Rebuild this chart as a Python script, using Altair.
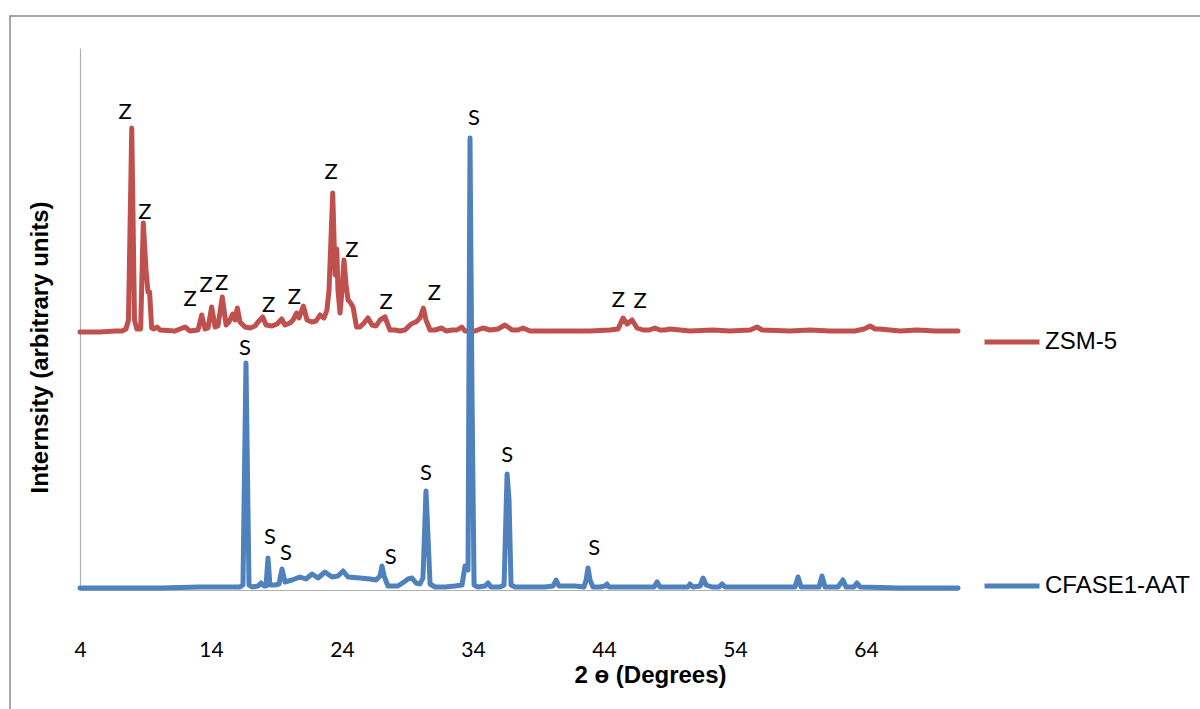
import altair as alt
import pandas as pd

# ZSM-5 trace (offset upward), 2θ in degrees / intensity in arbitrary units
zsm_two_theta = [
    4.00, 5.53, 6.67, 7.21, 7.51, 7.70, 7.95, 8.16, 8.33, 8.63, 8.83, 9.04, 9.19, 9.31,
    9.47, 9.65, 9.88, 10.11, 11.25, 12.02, 12.40, 13.01, 13.29, 13.54, 13.77, 14.05,
    14.31, 14.53, 14.86, 15.15, 15.37, 15.66, 15.83, 16.01, 16.21, 16.60, 16.98, 17.36,
    17.59, 17.95, 18.20, 18.66, 19.04, 19.40, 19.65, 20.03, 20.26, 20.54, 20.72, 21.05,
    21.33, 21.71, 22.02, 22.32, 22.63, 22.85, 23.01, 23.29, 23.47, 23.60, 23.69, 23.85,
    24.00, 24.15, 24.31, 24.46, 24.61, 24.84, 25.11, 25.37, 25.68, 25.98, 26.29, 26.60,
    26.90, 27.28, 27.51, 27.66, 28.05, 28.43, 28.81, 29.19, 29.42, 29.65, 29.95, 30.21,
    30.41, 30.72, 31.10, 31.61, 31.94, 32.40, 32.78, 33.14, 33.39, 34.15, 34.76, 35.30,
    35.91, 36.44, 36.98, 37.44, 37.82, 38.35, 39.88, 41.40, 42.93, 44.46, 45.07, 45.45,
    45.76, 46.14, 46.52, 46.98, 47.44, 47.89, 48.27, 48.66, 49.04, 50.56, 52.32, 53.62,
    55.15, 55.68, 56.06, 58.20, 59.73, 61.25, 63.16, 63.85, 64.31, 64.69, 65.07, 66.60,
    67.89, 69.27, 71.02,
]
zsm_intensity = [
    258, 258, 259, 259, 261, 270, 462, 270, 261, 261, 367, 320, 298, 298,
    262, 261, 263, 260, 259, 263, 259, 260, 275, 261, 262, 283,
    263, 264, 293, 265, 268, 276, 270, 282, 268, 263, 262, 264,
    268, 273, 265, 264, 266, 271, 265, 267, 270, 277, 272, 284,
    270, 268, 269, 275, 272, 280, 300, 397, 315, 341, 300, 277,
    300, 330, 305, 290, 288, 283, 263, 263, 267, 272, 265, 264,
    270, 273, 265, 260, 260, 259, 260, 265, 267, 268, 272, 282,
    270, 260, 260, 262, 259, 260, 260, 263, 259, 259, 262, 260,
    261, 265, 260, 260, 262, 259, 259, 259, 259, 260, 261, 272,
    266, 270, 262, 260, 260, 262, 260, 260, 261, 259, 260, 259,
    260, 263, 260, 259, 260, 259, 259, 261, 264, 261, 261, 259,
    260, 259, 259,
]

# CFASE1-AAT trace
cfase_two_theta = [
    4.00, 7.05, 10.11, 13.16, 15.07, 16.21, 16.44, 16.67, 16.90, 17.13, 17.59, 17.82,
    18.05, 18.20, 18.35, 18.50, 18.89, 19.19, 19.42, 19.65, 20.18, 20.79, 21.25, 21.71,
    22.17, 22.70, 23.24, 23.69, 24.08, 24.46, 25.37, 26.14, 26.60, 26.90, 27.05, 27.21,
    27.51, 28.27, 28.73, 29.04, 29.34, 29.65, 29.95, 30.18, 30.41, 30.56, 30.72, 31.10,
    31.86, 32.63, 33.16, 33.39, 33.62, 33.77, 33.92, 34.08, 34.38, 34.92, 35.15, 35.37,
    36.06, 36.37, 36.60, 36.75, 36.90, 37.21, 38.35, 39.50, 40.11, 40.34, 40.56, 41.79,
    42.47, 42.63, 42.78, 42.93, 43.16, 43.69, 44.08, 44.23, 44.38, 45.22, 46.75, 47.82,
    48.05, 48.27, 49.80, 50.41, 50.56, 50.79, 51.33, 51.56, 51.79, 52.24, 52.78, 53.01,
    53.24, 55.91, 58.58, 58.81, 59.04, 60.11, 60.41, 60.64, 60.87, 61.86, 62.24, 62.47,
    63.08, 63.31, 63.54, 66.60, 68.89, 71.02,
]
cfase_intensity = [
    2, 2, 2, 3, 3, 3, 5, 227, 5, 3, 4, 7,
    4, 4, 32, 5, 5, 6, 21, 8, 10, 13, 11, 16,
    12, 18, 13, 14, 19, 13, 12, 11, 10, 14, 24, 14,
    4, 4, 8, 11, 12, 7, 6, 12, 99, 55, 6, 3,
    3, 4, 5, 24, 20, 452, 200, 5, 3, 4, 7, 3,
    3, 5, 116, 90, 5, 3, 3, 3, 4, 10, 4, 4,
    3, 10, 22, 10, 3, 3, 4, 6, 3, 3, 3, 3,
    8, 3, 3, 3, 6, 3, 4, 12, 5, 3, 3, 6,
    3, 3, 3, 13, 3, 3, 3, 14, 3, 3, 10, 3,
    3, 7, 3, 2, 2, 2,
]

# Phase markers: Z = ZSM-5 reflections, S = reflections in CFASE1-AAT
z_label_theta = [7.44, 8.96, 12.40, 13.62, 14.82, 18.40, 20.36, 23.16, 24.76, 27.36, 31.05, 45.09, 46.75]
z_label_height = [478, 378, 291, 305, 307, 285, 293, 418, 340, 288, 297, 290, 289]
s_label_theta = [16.60, 18.50, 19.73, 27.72, 30.41, 34.08, 36.62, 43.26]
s_label_height = [242, 53, 37, 33, 117, 472, 135, 42]

x_ticks = [4, 14, 24, 34, 44, 54, 64]
series_names = ["ZSM-5", "CFASE1-AAT"]
series_colors = ["#C0504D", "#4F81BD"]

zsm = pd.DataFrame({"theta": zsm_two_theta, "intensity": zsm_intensity, "series": series_names[0]})
cfase = pd.DataFrame({"theta": cfase_two_theta, "intensity": cfase_intensity, "series": series_names[1]})
markers = pd.DataFrame({
    "theta": z_label_theta + s_label_theta,
    "intensity": z_label_height + s_label_height,
    "tag": ["Z"] * len(z_label_theta) + ["S"] * len(s_label_theta),
})

x_enc = alt.X(
    "theta:Q",
    scale=alt.Scale(domain=[4, 71.02], nice=False, zero=False),
    axis=alt.Axis(
        values=x_ticks, ticks=False, grid=False, labelFlush=False,
        labelPadding=49, labelFont="Lato", labelFontSize=21, labelColor="black",
        domainColor="#b0b0b0", domainWidth=1.2,
        title="2 ɵ (Degrees)", titleFont="Liberation Sans", titleFontWeight="bold",
        titleFontSize=24, titleColor="black", titleX=570, titleY=85,
        titleBaseline="middle", titleAlign="center",
    ),
)
y_enc = alt.Y(
    "intensity:Q",
    scale=alt.Scale(domain=[0, 542], nice=False),
    axis=alt.Axis(
        labels=False, ticks=False, grid=False,
        domainColor="#b0b0b0", domainWidth=1.2,
        title="Internsity (arbitrary units)", titleFont="Liberation Sans",
        titleFontWeight="bold", titleFontSize=24, titleColor="black",
        titleAngle=270, titleX=-40, titleY=299, titleBaseline="middle", titleAlign="center",
    ),
)
color_enc = alt.Color(
    "series:N",
    scale=alt.Scale(domain=series_names, range=series_colors),
    legend=alt.Legend(
        title=None, orient="none", legendX=902, legendY=264,
        symbolType="stroke", symbolSize=3025, symbolStrokeWidth=5,
        labelFont="Liberation Sans", labelFontSize=24, labelColor="black",
        labelOffset=3, rowPadding=202,
    ),
)

# outer frame of the chart area
frame = alt.Chart(alt.Data(values=[{}])).mark_rect(
    fill="white", fillOpacity=0, stroke="#8a8a8a", strokeWidth=1.5
).encode(
    x=alt.value(-70), x2=alt.value(1140), y=alt.value(-32), y2=alt.value(700)
)

line_style = dict(strokeWidth=5, strokeJoin="round", strokeCap="round")
zsm_line = alt.Chart(zsm).mark_line(**line_style).encode(x=x_enc, y=y_enc, color=color_enc)
cfase_line = alt.Chart(cfase).mark_line(**line_style).encode(x=x_enc, y=y_enc, color=color_enc)
tags = alt.Chart(markers).mark_text(
    font="Lato", fontSize=22, color="black", align="center", baseline="middle"
).encode(x=x_enc, y=y_enc, text="tag:N")

chart = alt.layer(frame, zsm_line, cfase_line, tags).properties(
    width=878,
    height=542,
    autosize=alt.AutoSizeParams(type="none"),
    padding={"left": 80, "top": 48, "right": 242, "bottom": 119},
).configure(background="white").configure_view(stroke="transparent", strokeWidth=0)

chart.save("out.html", embed_options={"renderer": "svg", "actions": False})
